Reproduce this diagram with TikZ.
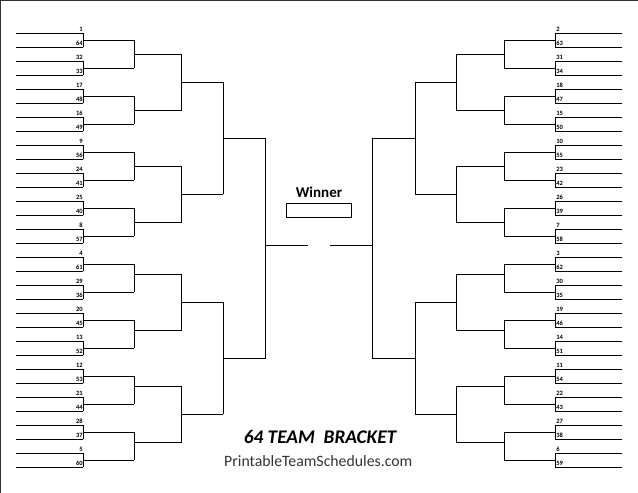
\documentclass[tikz,border=0pt]{standalone}
\usepackage{fontspec}
\setmainfont{Carlito}
\begin{document}
\begin{tikzpicture}[x=1pt,y=-1pt,
  br/.style={line width=0.95pt,black,line cap=rect},
  seedfont/.style={inner sep=0pt,font=\bfseries\fontsize{6.5}{7}\selectfont},
  seedL/.style={seedfont,anchor=south east},
  seedR/.style={seedfont,anchor=south west},
  pageedge/.style={line width=1.2pt,black!80}]
\useasboundingbox (0,0) rectangle (638,493);
% page edge (top and left)
\coordinate (E1) at (0.7,493);
\coordinate (E2) at (0.7,0.6);
\coordinate (E3) at (638,0.6);
\draw[pageedge] (E1) -- (E2) -- (E3);
% horizontal bracket lines
\foreach \side/\sg in {L/1,R/-1}{
  \foreach \r/\xa/\xb/\m in {1/16/83/31,2/83/134/15,3/134/181.5/7,4/181.5/223/3,5/223/265.5/1}{
    \foreach \k in {0,...,\m}{
      \pgfmathsetmacro\yy{33+14*(\k*2^(\r-1)+(2^(\r-1)-1)/2) - and(\r>2,\k*2^(\r-1)>=16)*4}
      \coordinate (\side\r a\k) at ({319+\sg*(\xa-319)},\yy);
      \coordinate (\side\r b\k) at ({319+\sg*(\xb-319)},\yy);
      \draw[br] (\side\r a\k) -- (\side\r b\k);
    }
  }
}
% vertical joins
\foreach \side in {L,R}{
  \foreach \r/\m in {1/15,2/7,3/3,4/1,5/0}{
    \foreach \j in {0,...,\m}{
      \pgfmathtruncatemacro\ka{2*\j}
      \pgfmathtruncatemacro\kb{2*\j+1}
      \draw[br] (\side\r b\ka) -- (\side\r b\kb);
    }
  }
}
% final lines
\coordinate (LF1) at (265.5,245.5);
\coordinate (LF2) at (307.3,245.5);
\coordinate (RF1) at (372.5,245.5);
\coordinate (RF2) at (330.7,245.5);
\draw[br] (LF1) -- (LF2);
\draw[br] (RF1) -- (RF2);
% seeds
\foreach \s [count=\i from 0] in {1,64,32,33,17,48,16,49,9,56,24,41,25,40,8,57,4,61,29,36,20,45,13,52,12,53,21,44,28,37,5,60}{
  \node[seedL] (Ls\i) at ([shift={(-0.2,-1.3)}]L1b\i) {\s};
}
\foreach \s [count=\i from 0] in {2,63,31,34,18,47,15,50,10,55,23,42,26,39,7,58,3,62,30,35,19,46,14,51,11,54,22,43,27,38,6,59}{
  \node[seedR] (Rs\i) at ([shift={(1.2,-1.3)}]R1b\i) {\s};
}
% winner
\node[font=\bfseries\fontsize{15}{18}\selectfont,anchor=base] (win) at (319,197.3) {Winner};
\node[draw,line width=0.9pt,minimum width=65.7pt,minimum height=14pt,inner sep=0pt] (wbox) at (318.85,210.3) {};
% titles
\node[font=\bfseries\itshape\fontsize{19.3}{23}\selectfont,anchor=base] (title) at (320,443.3) {64 TEAM\ \ BRACKET};
\node[font=\fontsize{15.8}{19}\selectfont,text=black!80,anchor=base] (site) at (318.3,466) {PrintableTeamSchedules.com};
\end{tikzpicture}
\end{document}
